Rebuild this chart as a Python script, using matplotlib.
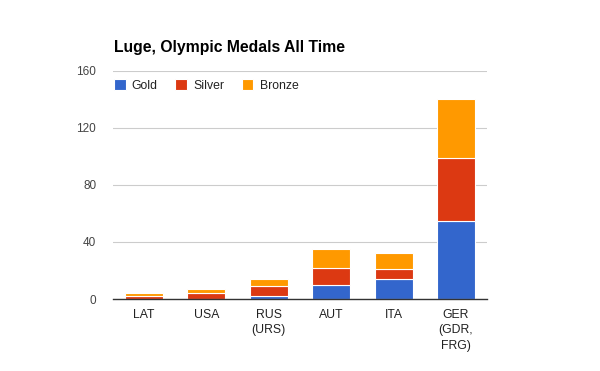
import matplotlib.pyplot as plt
import numpy as np

plt.rcParams["font.family"] = ["Liberation Sans", "DejaVu Sans"]

# 資料
countries = ["LAT", "USA", "RUS\n(URS)", "AUT", "ITA", "GER\n(GDR,\nFRG)"]
gold = [0, 0, 2, 10, 14, 55]
silver = [2, 4, 7, 12, 7, 44]
bronze = [2, 3, 5, 13, 11, 41]
yticks = [0, 40, 80, 120, 160]

colors = {"Gold": "#3366cc", "Silver": "#dc3912", "Bronze": "#ff9900"}

fig = plt.figure(figsize=(6, 3.71), dpi=100)
ax = fig.add_axes([0.188, 0.194, 0.624, 0.615])

x = np.arange(len(countries))
width = 0.61
bottom = np.zeros(len(countries))
for name, vals in [("Gold", gold), ("Silver", silver), ("Bronze", bronze)]:
    vals = np.array(vals, dtype=float)
    ax.bar(x, vals, width, bottom=bottom, color=colors[name], label=name,
           edgecolor="white", linewidth=0.8, zorder=3)
    bottom += vals

ax.set_xlim(-0.5, len(countries) - 0.5)
ax.set_ylim(0, 160)
ax.set_yticks(yticks)
ax.set_xticks(x)
ax.set_xticklabels(countries, fontsize=8.8, color="#222222", va="top",
                   linespacing=1.4)
ax.tick_params(axis="y", labelsize=8.5, labelcolor="#444444", length=0, pad=12)
ax.tick_params(axis="x", length=0, pad=7)
ax.grid(axis="y", color="#cccccc", linewidth=0.8, zorder=0)
for s in ["top", "right", "left"]:
    ax.spines[s].set_visible(False)
ax.spines["bottom"].set_color("#333333")
ax.spines["bottom"].set_linewidth(1)
ax.spines["bottom"].set_zorder(4)

fig.text(0.19, 0.872, "Luge, Olympic Medals All Time", fontsize=11.3,
         fontweight="bold", color="#000000", va="center")

leg = ax.legend(loc="upper left", bbox_to_anchor=(-0.01, 0.985), ncol=3,
                frameon=False, fontsize=8.8, handlelength=0.95,
                handleheight=0.95, handletextpad=0.5, columnspacing=1.45,
                borderaxespad=0)
for t in leg.get_texts():
    t.set_color("#222222")

fig.savefig("out.png", dpi=100, facecolor="white")
